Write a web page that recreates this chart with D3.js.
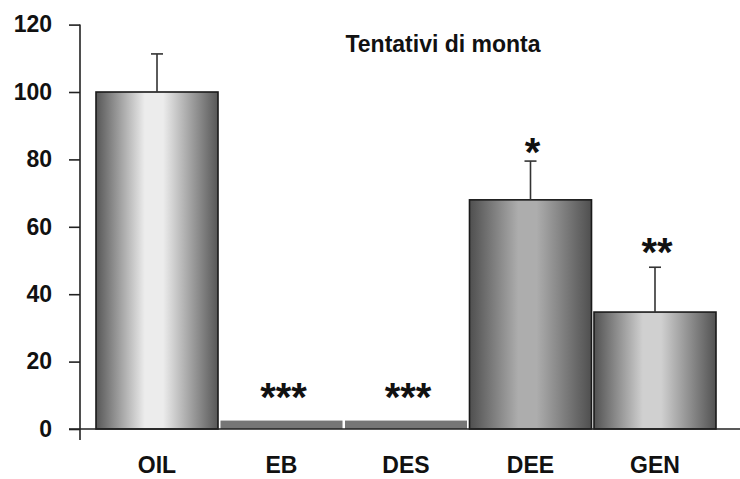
<!DOCTYPE html>
<html>
<head>
<meta charset="utf-8">
<script src="https://cdn.jsdelivr.net/npm/d3@7"></script>
<style>
  body { margin: 0; background: #fff; }
  text { font-family: "Liberation Sans", Arial, sans-serif; font-weight: bold; fill: #111; }
</style>
</head>
<body>
<div id="graph"></div>
<script>
// data
var groups = ["OIL", "EB", "DES", "DEE", "GEN"];
var means = [100, 2.5, 2.5, 68, 34.7];
var errors = [11.3, 0, 0, 11.5, 13.3];
var stars = ["", "***", "***", "*", "**"];
var starLevels = [null, 11.6, 11.6, 84.3, 54.6];
var yTicks = [0, 20, 40, 60, 80, 100, 120];
var title = "Tentativi di monta";

// bar shading (edge colour, centre colour); flat bars get null
var shades = [["#575757", "#ececec"], null, null, ["#4f4f4f", "#adadad"], ["#525252", "#d0d0d0"]];

var width = 740, height = 479;

var svg = d3.select("#graph")
  .append("svg")
  .attr("width", width)
  .attr("height", height);

var x = d3.scaleBand().domain(groups).range([96, 716]).paddingInner(0.02);
var y = d3.scaleLinear().domain([0, 120]).range([429, 24.6]);

// gradients for the cylinder look
var defs = svg.append("defs");
shades.forEach(function(s, i) {
  if (!s) return;
  var g = defs.append("linearGradient")
    .attr("id", "grad" + i)
    .attr("x1", "0%").attr("x2", "100%").attr("y1", "0%").attr("y2", "0%");
  g.append("stop").attr("offset", "0%").attr("stop-color", s[0]);
  g.append("stop").attr("offset", "40%").attr("stop-color", s[1]);
  g.append("stop").attr("offset", "55%").attr("stop-color", s[1]);
  g.append("stop").attr("offset", "100%").attr("stop-color", s[0]);
});

// y axis
var yAxis = svg.append("g")
  .attr("transform", "translate(80,0)")
  .call(d3.axisLeft(y).tickValues(yTicks).tickSize(11).tickPadding(17));
yAxis.select(".domain").remove();
yAxis.selectAll(".tick line").attr("stroke", "#222").attr("stroke-width", 1.6);
yAxis.selectAll(".tick text")
  .attr("font-size", 23)
  .attr("font-family", "Liberation Sans, Arial, sans-serif")
  .attr("font-weight", "bold")
  .attr("fill", "#111");
svg.append("line")
  .attr("x1", 80).attr("x2", 80)
  .attr("y1", y(120)).attr("y2", y(0) + 11)
  .attr("stroke", "#222").attr("stroke-width", 1.6);

// bars
svg.selectAll("rect.bar")
  .data(groups)
  .enter()
  .append("rect")
  .attr("class", "bar")
  .attr("x", function(d) { return x(d); })
  .attr("width", x.bandwidth())
  .attr("y", function(d, i) { return y(means[i]); })
  .attr("height", function(d, i) { return y(0) - y(means[i]); })
  .attr("fill", function(d, i) { return shades[i] ? "url(#grad" + i + ")" : "#767676"; })
  .attr("stroke", function(d, i) { return shades[i] ? "#1a1a1a" : "none"; })
  .attr("stroke-width", 1.6);

// error bars
var err = svg.selectAll("g.err")
  .data(groups.filter(function(d, i) { return errors[i] > 0; }))
  .enter()
  .append("g")
  .attr("class", "err");
err.append("line")
  .attr("x1", function(d) { return x(d) + x.bandwidth() / 2; })
  .attr("x2", function(d) { return x(d) + x.bandwidth() / 2; })
  .attr("y1", function(d) { var i = groups.indexOf(d); return y(means[i]); })
  .attr("y2", function(d) { var i = groups.indexOf(d); return y(means[i] + errors[i]); })
  .attr("stroke", "#333").attr("stroke-width", 1.6);
err.append("line")
  .attr("x1", function(d) { return x(d) + x.bandwidth() / 2 - 6; })
  .attr("x2", function(d) { return x(d) + x.bandwidth() / 2 + 6; })
  .attr("y1", function(d) { var i = groups.indexOf(d); return y(means[i] + errors[i]); })
  .attr("y2", function(d) { var i = groups.indexOf(d); return y(means[i] + errors[i]); })
  .attr("stroke", "#333").attr("stroke-width", 1.6);

// baseline
svg.append("line")
  .attr("x1", 69).attr("x2", width)
  .attr("y1", y(0)).attr("y2", y(0))
  .attr("stroke", "#222").attr("stroke-width", 1.6);

// x labels
svg.selectAll("text.xlab")
  .data(groups)
  .enter()
  .append("text")
  .attr("class", "xlab")
  .attr("x", function(d) { return x(d) + x.bandwidth() / 2; })
  .attr("y", 473)
  .attr("text-anchor", "middle")
  .attr("font-size", 23)
  .text(function(d) { return d; });

// significance stars
svg.selectAll("text.star")
  .data(groups.filter(function(d, i) { return stars[i] !== ""; }))
  .enter()
  .append("text")
  .attr("class", "star")
  .attr("x", function(d) { return x(d) + x.bandwidth() / 2 + 2; })
  .attr("y", function(d) { return y(starLevels[groups.indexOf(d)]) + 21; })
  .attr("text-anchor", "middle")
  .attr("font-size", 40)
  .text(function(d) { return stars[groups.indexOf(d)]; });

// title
svg.append("text")
  .attr("x", 443)
  .attr("y", 52)
  .attr("text-anchor", "middle")
  .attr("font-size", 23)
  .text(title);
</script>
</body>
</html>
